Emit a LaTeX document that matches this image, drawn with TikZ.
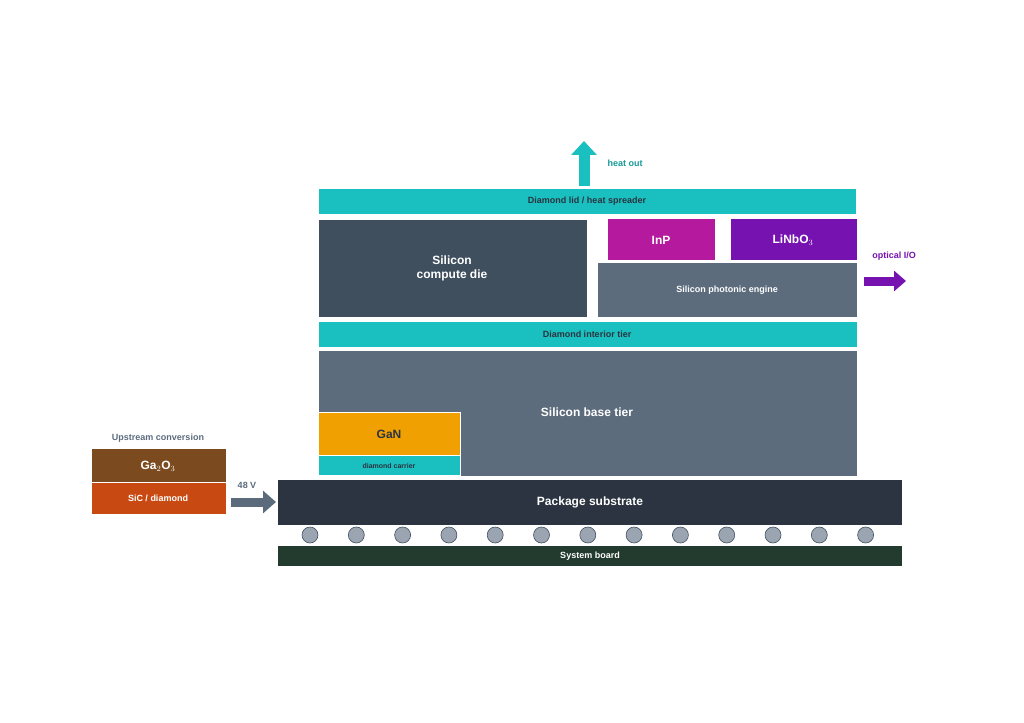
\documentclass[tikz,border=0pt]{standalone}
\usepackage{fontspec}
\setmainfont{Liberation Sans}
\usetikzlibrary{positioning,arrows.meta,shapes.arrows}
\definecolor{teal1}{HTML}{1ABFBF}
\definecolor{slate}{HTML}{3F4F5E}
\definecolor{slatelt}{HTML}{5C6C7D}
\definecolor{inp}{HTML}{B5199E}
\definecolor{linb}{HTML}{7512B0}
\definecolor{gan}{HTML}{F0A000}
\definecolor{pkg}{HTML}{2B3440}
\definecolor{board}{HTML}{233A2E}
\definecolor{ga}{HTML}{7B4A1E}
\definecolor{sic}{HTML}{C84A12}
\definecolor{ball}{HTML}{9AA5B1}
\definecolor{txtgray}{HTML}{5B6B7C}
\tikzset{
  layer/.style={draw=white, line width=0.8pt, font=\bfseries},
  lbl/.style={font=\bfseries\small},
}
\begin{document}
\begin{tikzpicture}[x=1pt,y=-1pt]
  \useasboundingbox (0,0) rectangle (1024,722);
  % heat path
  \draw[teal1, line width=11pt, -{Triangle[length=14pt,width=25pt]}] (584,186) -- (584,141);
  \node[lbl, teal1!80!black, right] (heat) at (604,163) {heat out};
  \filldraw[layer, fill=teal1] (318,188) rectangle (856,214);
  \node[lbl, pkg] (lid) at (587,201) {Diamond lid / heat spreader};
  % top tier
  \filldraw[layer, fill=slate] (318,219) rectangle (587,317);
  \node[font=\bfseries\large, white, align=center] (cpu) at (452,268) {Silicon\\compute die};
  \filldraw[layer, fill=inp] (607,218) rectangle (715,260);
  \node[font=\bfseries\large, white] (inp) at (661,240) {InP};
  \filldraw[layer, fill=linb] (730,218) rectangle (857,260);
  \node[font=\bfseries\large, white] (linbo) at (793,240) {LiNbO$_3$};
  \filldraw[layer, fill=slatelt] (597,262) rectangle (857,317);
  \node[lbl, white] (phot) at (727,290) {Silicon photonic engine};
  \node[lbl, linb] (oio) at (894,256) {optical I/O};
  \draw[linb, line width=9pt, -{Triangle[length=12pt,width=20pt]}] (864,281) -- (906,281);
  % interior tier
  \filldraw[layer, fill=teal1] (318,321) rectangle (857,347);
  \node[lbl, pkg] (int) at (587,334) {Diamond interior tier};
  \filldraw[layer, fill=slatelt] (318,350) rectangle (857,476);
  \node[font=\bfseries\large, white] (base) at (587,412) {Silicon base tier};
  \filldraw[layer, fill=gan] (318,412) rectangle (460,455);
  \node[font=\bfseries\large, pkg] (gan) at (389,434) {GaN};
  \filldraw[layer, fill=teal1] (318,455) rectangle (460,475);
  \node[font=\bfseries\scriptsize, pkg] (car) at (389,466) {diamond carrier};
  % package
  \filldraw[layer, fill=pkg] (277,479) rectangle (902,525);
  \node[font=\bfseries\large, white] (pkgs) at (590,502) {Package substrate};
  \foreach \i in {0,...,12}
    \filldraw[fill=ball, draw=slate, line width=0.6pt] (310+46.3*\i,535) circle (8);
  \filldraw[layer, fill=board] (277,545) rectangle (902,566);
  \node[lbl, white] (sys) at (590,556) {System board};
  % upstream conversion
  \node[lbl, txtgray] (up) at (158,438) {Upstream conversion};
  \filldraw[layer, fill=ga] (91,448) rectangle (226,482);
  \node[font=\bfseries\large, white] (ga) at (158,466) {Ga$_2$O$_3$};
  \filldraw[layer, fill=sic] (91,482) rectangle (226,514);
  \node[lbl, white] (sic) at (158,498) {SiC / diamond};
  \node[lbl, txtgray] (v) at (247,485) {48 V};
  \draw[txtgray, line width=9pt, -{Triangle[length=13pt,width=22pt]}] (231,502) -- (276,502);
\end{tikzpicture}
\end{document}
